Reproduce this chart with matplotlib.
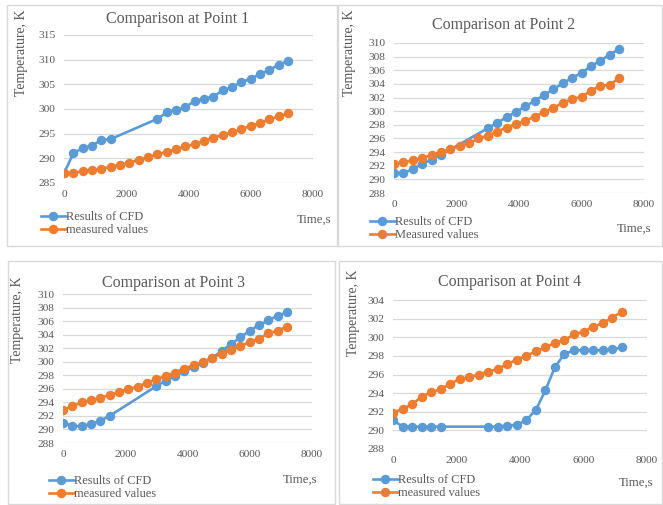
import matplotlib
matplotlib.use("Agg")
import matplotlib.pyplot as plt
from matplotlib.patches import Rectangle
from matplotlib.lines import Line2D

plt.rcParams["font.family"] = ["Liberation Serif", "DejaVu Serif"]

W, H = 663, 505
BLUE = "#5B9BD5"
ORANGE = "#ED7D31"
GREY_TXT = "#595959"
GRID = "#D9D9D9"

# measurement times (s)
t_meas = [0, 300, 600, 900, 1200, 1500, 1800, 2100, 2400, 2700, 3000, 3300, 3600,
          3900, 4200, 4500, 4800, 5100, 5400, 5700, 6000, 6300, 6600, 6900, 7200]
# CFD output times (s)
t_cfd = [0, 300, 600, 900, 1200, 1500, 3000, 3300, 3600, 3900, 4200, 4500, 4800,
         5100, 5400, 5700, 6000, 6300, 6600, 6900, 7200]

# Point 1
cfd_p1 = [287.0, 291.0, 292.1, 292.6, 293.7, 293.9, 298.0, 299.3, 299.8, 300.4, 301.6,
          302.1, 302.5, 303.8, 304.4, 305.5, 306.1, 307.1, 307.9, 309.0, 309.7]
meas_p1 = [287.0, 287.0, 287.4, 287.6, 287.9, 288.3, 288.7, 289.1, 289.7, 290.2, 290.8,
           291.3, 291.8, 292.4, 292.9, 293.5, 294.2, 294.7, 295.3, 295.9, 296.6, 297.1,
           297.9, 298.5, 299.1]
# Point 2
cfd_p2 = [291.0, 290.9, 291.5, 292.3, 292.9, 293.6, 297.5, 298.3, 299.1, 299.9, 300.7,
          301.5, 302.4, 303.2, 304.1, 304.9, 305.6, 306.6, 307.4, 308.3, 309.1]
meas_p2 = [292.2, 292.5, 292.8, 293.1, 293.6, 294.0, 294.4, 294.9, 295.3, 296.0, 296.4,
           297.0, 297.6, 298.1, 298.6, 299.2, 299.9, 300.5, 301.2, 301.8, 302.1, 303.0,
           303.7, 303.9, 304.8]
# Point 3
cfd_p3 = [291.0, 290.5, 290.5, 290.8, 291.3, 292.0, 296.4, 297.2, 297.9, 298.6, 299.2,
          299.8, 300.6, 301.6, 302.6, 303.6, 304.6, 305.4, 306.1, 306.8, 307.3]
meas_p3 = [292.9, 293.4, 294.0, 294.3, 294.7, 295.1, 295.5, 296.0, 296.3, 296.9, 297.4,
           297.9, 298.4, 299.0, 299.5, 300.0, 300.6, 301.2, 301.8, 302.3, 302.9, 303.4,
           304.2, 304.6, 305.2]
# Point 4
cfd_p4 = [291.1, 290.4, 290.4, 290.4, 290.4, 290.4, 290.4, 290.4, 290.5, 290.6, 291.1,
          292.2, 294.3, 296.8, 298.2, 298.6, 298.6, 298.6, 298.6, 298.7, 298.9]
meas_p4 = [291.9, 292.3, 292.8, 293.6, 294.1, 294.4, 295.0, 295.5, 295.7, 296.0, 296.3,
           296.6, 297.1, 297.6, 298.0, 298.5, 298.9, 299.4, 299.7, 300.3, 300.6, 301.1,
           301.5, 302.1, 302.7]

titles = ["Comparison at Point 1", "Comparison at Point 2",
          "Comparison at Point 3", "Comparison at Point 4"]
cfd_label = "Results of CFD"
meas_labels = ["measured values", "Measured values", "measured values", "measured values"]
y_ranges = [(285, 315, 5), (288, 310, 2), (288, 310, 2), (288, 304, 2)]
x_ticks = [0, 2000, 4000, 6000, 8000]

# layout in pixels: frame (x0, y0, x1, y1), plot area (l, t, r, b), title xy,
# ylabel xy, legend xy (top-left of first handle), time label xy
panels = [
    dict(frame=(7, 5, 338, 246), area=(64, 35, 313, 183), title=(178, 19),
         ylab=(22, 53), leg=(41, 211), tlab=(314, 220)),
    dict(frame=(337, 5, 662, 246), area=(394, 43, 644, 193), title=(504, 25),
         ylab=(349, 53), leg=(370, 216), tlab=(634, 229)),
    dict(frame=(8, 261, 335, 504), area=(63, 294, 312, 443), title=(173, 283),
         ylab=(18, 320), leg=(49, 475), tlab=(300, 480)),
    dict(frame=(339, 261, 662, 504), area=(393, 300, 647, 449), title=(510, 282),
         ylab=(354, 313), leg=(373, 474), tlab=(636, 483)),
]

cfd_series = [cfd_p1, cfd_p2, cfd_p3, cfd_p4]
meas_series = [meas_p1, meas_p2, meas_p3, meas_p4]

LW = 1.9
MS = 5.8


def fx(x):
    return x / W


def fy(y):
    return 1 - y / H


fig = plt.figure(figsize=(W / 100, H / 100), dpi=100)

for i, p in enumerate(panels):
    x0, y0, x1, y1 = p["frame"]
    fig.patches.append(Rectangle((fx(x0), fy(y1)), fx(x1 - x0), (y1 - y0) / H,
                                 transform=fig.transFigure, fill=False,
                                 edgecolor=GRID, linewidth=1.0))
    l, t, r, b = p["area"]
    ax = fig.add_axes([fx(l), fy(b), fx(r - l), (b - t) / H])
    ymin, ymax, ystep = y_ranges[i]
    ax.plot(t_cfd, cfd_series[i], "-o", color=BLUE, lw=LW, ms=MS, label=cfd_label,
            zorder=3)
    ax.plot(t_meas, meas_series[i], "-o", color=ORANGE, lw=LW, ms=MS,
            label=meas_labels[i], zorder=4)
    ax.set_xlim(0, 8000)
    ax.set_ylim(ymin, ymax)
    ax.set_xticks(x_ticks)
    ax.set_yticks(list(range(ymin, ymax + 1, ystep)))
    ax.grid(axis="y", color=GRID, lw=0.9)
    ax.set_axisbelow(True)
    for s in ax.spines.values():
        s.set_visible(False)
    ax.tick_params(length=0, labelsize=8.2, labelcolor=GREY_TXT, pad=6)
    ax.tick_params(axis="x", pad=5)
    ax.patch.set_alpha(0)

    fig.text(fx(p["title"][0]), fy(p["title"][1]), titles[i], ha="center",
             va="center", fontsize=11.5, color=GREY_TXT)
    fig.text(fx(p["ylab"][0]), fy(p["ylab"][1]), "Temperature, K", rotation=90,
             ha="center", va="center", fontsize=10, color=GREY_TXT)
    fig.text(fx(p["tlab"][0]), fy(p["tlab"][1]), "Time,s", ha="center", va="center",
             fontsize=9.2, color=GREY_TXT)

    handles = [Line2D([], [], color=BLUE, marker="o", lw=LW, ms=MS),
               Line2D([], [], color=ORANGE, marker="o", lw=LW, ms=MS)]
    ax.legend(handles, [cfd_label, meas_labels[i]], loc="upper left",
              bbox_to_anchor=(fx(p["leg"][0]), fy(p["leg"][1])),
              bbox_transform=fig.transFigure, frameon=False, fontsize=8.9,
              handlelength=2.0, handletextpad=0.05, borderpad=0, borderaxespad=0,
              labelspacing=0.08, labelcolor=GREY_TXT)

fig.savefig("out.png", dpi=100)
